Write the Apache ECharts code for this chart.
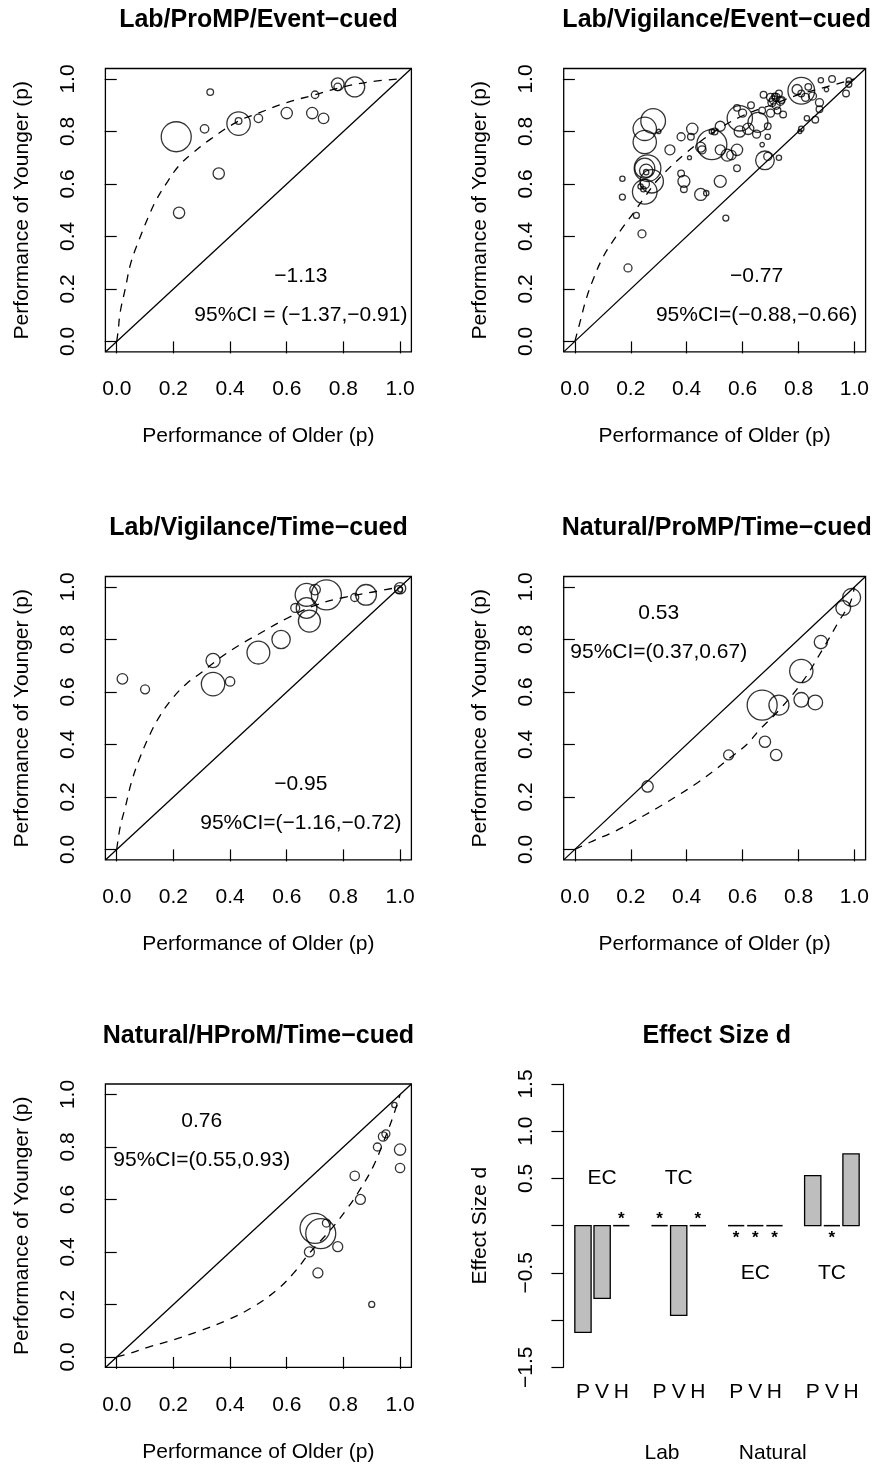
<!DOCTYPE html>
<html>
<head>
<meta charset="utf-8">
<script src="https://cdn.jsdelivr.net/npm/echarts@6/dist/echarts.min.js"></script>
<style>
html, body { margin: 0; padding: 0; background: #fff; }
#chart { width: 872px; height: 1466px; }
</style>
</head>
<body>
<div id="chart"></div>
<script>
var font = 'Liberation Sans, Arial, Helvetica, sans-serif';
var ink = '#000';

// points: [older p, younger p, n]
var labProEvent = [
  [0.21, 0.78, 225], [0.22, 0.49, 32], [0.31, 0.81, 18], [0.33, 0.95, 11],
  [0.36, 0.64, 32], [0.43, 0.83, 137], [0.43, 0.84, 11], [0.50, 0.85, 18],
  [0.60, 0.87, 32], [0.69, 0.87, 32], [0.70, 0.94, 14], [0.73, 0.85, 28],
  [0.78, 0.98, 40], [0.78, 0.97, 14], [0.84, 0.97, 100]
];
var labVigEvent = [
  [0.28, 0.84, 152], [0.25, 0.81, 136], [0.25, 0.76, 136], [0.26, 0.66, 178],
  [0.25, 0.66, 100], [0.255, 0.65, 44], [0.25, 0.57, 152], [0.275, 0.61, 136],
  [0.25, 0.60, 22], [0.245, 0.58, 7], [0.235, 0.59, 7], [0.255, 0.645, 7],
  [0.30, 0.80, 5], [0.17, 0.62, 7], [0.17, 0.55, 9], [0.22, 0.48, 9],
  [0.24, 0.41, 16], [0.19, 0.28, 16], [0.34, 0.73, 25], [0.38, 0.78, 16],
  [0.42, 0.81, 32], [0.415, 0.78, 11], [0.41, 0.70, 4], [0.38, 0.64, 11],
  [0.39, 0.61, 36], [0.39, 0.58, 11], [0.45, 0.56, 36], [0.47, 0.565, 7],
  [0.49, 0.75, 225], [0.49, 0.80, 7], [0.45, 0.74, 25], [0.455, 0.73, 16],
  [0.52, 0.82, 25], [0.50, 0.80, 11], [0.52, 0.73, 25], [0.545, 0.71, 36],
  [0.56, 0.71, 22], [0.58, 0.73, 32], [0.52, 0.61, 36], [0.58, 0.66, 11],
  [0.58, 0.89, 11], [0.63, 0.90, 11], [0.59, 0.85, 160], [0.60, 0.87, 16],
  [0.59, 0.80, 32], [0.62, 0.81, 32], [0.655, 0.835, 100], [0.65, 0.79, 16],
  [0.68, 0.69, 87], [0.69, 0.705, 16], [0.73, 0.70, 7], [0.67, 0.75, 5],
  [0.69, 0.78, 7], [0.69, 0.82, 11], [0.67, 0.88, 11], [0.70, 0.87, 16],
  [0.675, 0.94, 11], [0.70, 0.93, 16], [0.71, 0.92, 16], [0.72, 0.93, 16],
  [0.735, 0.915, 16], [0.72, 0.90, 16], [0.705, 0.91, 16], [0.73, 0.945, 11],
  [0.745, 0.865, 11], [0.725, 0.88, 11], [0.74, 0.92, 11], [0.715, 0.935, 9],
  [0.81, 0.955, 178], [0.795, 0.96, 25], [0.825, 0.93, 16], [0.81, 0.945, 11],
  [0.835, 0.97, 11], [0.85, 0.935, 16], [0.875, 0.91, 16], [0.875, 0.885, 11],
  [0.86, 0.845, 11], [0.83, 0.85, 7], [0.81, 0.81, 7], [0.805, 0.80, 4],
  [0.88, 0.995, 7], [0.92, 1.0, 11], [0.90, 0.96, 5], [0.98, 0.995, 7],
  [0.98, 0.98, 9], [0.97, 0.945, 11], [0.54, 0.47, 9]
];
var labVigTime = [
  [0.02, 0.65, 28], [0.10, 0.61, 20], [0.34, 0.72, 50], [0.34, 0.63, 137],
  [0.40, 0.64, 22], [0.50, 0.75, 130], [0.58, 0.80, 84], [0.63, 0.92, 20],
  [0.67, 0.97, 130], [0.67, 0.92, 107], [0.68, 0.87, 121], [0.70, 0.99, 28],
  [0.74, 0.97, 225], [0.84, 0.96, 16], [0.88, 0.97, 107], [1.00, 0.995, 32],
  [0.995, 0.99, 16], [1.00, 0.99, 6]
];
var natProTime = [
  [0.26, 0.24, 32], [0.55, 0.36, 25], [0.68, 0.41, 32], [0.72, 0.36, 32],
  [0.67, 0.55, 225], [0.73, 0.55, 100], [0.81, 0.57, 54], [0.86, 0.56, 54],
  [0.81, 0.68, 136], [0.88, 0.79, 44], [0.96, 0.92, 54], [0.99, 0.96, 81]
];
var natHProTime = [
  [0.98, 0.96, 7], [0.94, 0.84, 22], [0.95, 0.85, 16], [0.92, 0.80, 16],
  [1.00, 0.79, 32], [1.00, 0.72, 22], [0.84, 0.69, 22], [0.86, 0.60, 25],
  [0.70, 0.49, 225], [0.72, 0.47, 225], [0.74, 0.51, 16], [0.68, 0.40, 25],
  [0.78, 0.42, 25], [0.71, 0.32, 25], [0.90, 0.20, 9]
];

// dashed fitted curves
var curveLabProEvent = [[0, 0], [0.005, 0.04], [0.012, 0.11], [0.03, 0.2], [0.05, 0.3], [0.08, 0.39],
  [0.11, 0.47], [0.14, 0.54], [0.18, 0.61], [0.22, 0.67], [0.27, 0.72], [0.33, 0.77], [0.43, 0.84],
  [0.5, 0.87], [0.6, 0.91], [0.7, 0.94], [0.8, 0.97], [0.9, 0.99], [1, 1]];
var curveLabVigEvent = [[0, 0], [0.02, 0.08], [0.04, 0.16], [0.065, 0.235], [0.1, 0.32], [0.135, 0.38],
  [0.175, 0.44], [0.21, 0.49], [0.25, 0.55], [0.3, 0.62], [0.4, 0.72], [0.5, 0.8], [0.6, 0.86],
  [0.7, 0.9], [0.8, 0.94], [0.9, 0.97], [1, 1]];
var curveLabVigTime = [[0, 0], [0.012, 0.085], [0.03, 0.16], [0.053, 0.26], [0.082, 0.35], [0.118, 0.44],
  [0.153, 0.51], [0.2, 0.58], [0.25, 0.635], [0.3, 0.675], [0.365, 0.73], [0.435, 0.78], [0.5, 0.82],
  [0.6, 0.88], [0.7, 0.93], [0.8, 0.96], [0.9, 0.98], [1, 1]];
var curveNatProTime = [[0, 0], [0.06, 0.03], [0.145, 0.07], [0.215, 0.11], [0.29, 0.155], [0.36, 0.2],
  [0.44, 0.255], [0.51, 0.31], [0.55, 0.345], [0.615, 0.4], [0.66, 0.455], [0.73, 0.53], [0.815, 0.64],
  [0.885, 0.76], [0.945, 0.87], [0.985, 0.94], [1, 1]];
var curveNatHProTime = [[0, 0], [0.035, 0.01], [0.12, 0.04], [0.2, 0.065], [0.295, 0.1], [0.39, 0.14],
  [0.48, 0.19], [0.565, 0.255], [0.625, 0.32], [0.68, 0.395], [0.755, 0.485], [0.81, 0.56], [0.86, 0.64],
  [0.905, 0.725], [0.94, 0.815], [0.975, 0.915], [1, 1]];

var panelTitles = ['Lab/ProMP/Event\u2212cued', 'Lab/Vigilance/Event\u2212cued', 'Lab/Vigilance/Time\u2212cued',
  'Natural/ProMP/Time\u2212cued', 'Natural/HProM/Time\u2212cued', 'Effect Size d'];
var effectText = ['\u22121.13', '\u22120.77', '\u22120.95', '0.53', '0.76'];
var ciText = ['95%CI = (\u22121.37,\u22120.91)', '95%CI=(\u22120.88,\u22120.66)', '95%CI=(\u22121.16,\u22120.72)',
  '95%CI=(0.37,0.67)', '95%CI=(0.55,0.93)'];
var pTicks = [0, 0.2, 0.4, 0.6, 0.8, 1.0];

// effect size bars: P V H per group, blank slot between groups
var barCats = ['P', 'V', 'H', '', 'P', 'V', 'H', '', 'P', 'V', 'H', '', 'P', 'V', 'H'];
var barVals = [-1.13, -0.77, 0, null, 0, -0.95, 0, null, 0, 0, 0, null, 0.53, 0, 0.76];
var starSlots = [2, 4, 6, 8, 9, 10, 13];
var starSide = [1, 1, 1, -1, -1, -1, -1];
var groupLabels = ['EC', 'TC', 'EC', 'TC'];
var groupSlots = [1, 5, 9, 13];
var groupY = [0.5, 0.5, -0.5, -0.5];

var scatterSets = [labProEvent, labVigEvent, labVigTime, natProTime, natHProTime];
var curves = [curveLabProEvent, curveLabVigEvent, curveLabVigTime, curveNatProTime, curveNatHProTime];
var textAt = [[0.65, 0.25, 0.10], [0.65, 0.25, 0.10], [0.65, 0.25, 0.10], [0.30, 0.90, 0.75], [0.30, 0.90, 0.75]];

var colLeft = [105.4, 563.7];
var rowTop = [68.5, 576.5, 1084];
var boxW = 306, boxH = 283.4;
var lo = -0.04, hi = 1.04;

function fmt(v) { return v.toFixed(1).replace('-', '\u2212'); }
var txt = { color: ink, fontFamily: font, fontSize: 21 };
var plainLabel = { textBorderWidth: 0, textShadowBlur: 0, opacity: 1 };

var grids = [], xAxes = [], yAxes = [], series = [], graphics = [];

scatterSets.forEach(function(pts, i) {
  var col = i % 2, row = Math.floor(i / 2);
  grids.push({ left: colLeft[col], top: rowTop[row], width: boxW, height: boxH,
    show: true, borderColor: ink, borderWidth: 1.3, backgroundColor: 'transparent' });
  xAxes.push({ gridIndex: i, type: 'value', min: lo, max: hi,
    axisLine: { show: false }, splitLine: { show: false },
    axisTick: { show: true, length: 12, lineStyle: { color: ink, width: 1.2 }, customValues: pTicks },
    axisLabel: Object.assign({ customValues: pTicks, formatter: fmt, margin: 27 }, txt),
    name: 'Performance of Older (p)', nameLocation: 'middle', nameGap: 74, nameTextStyle: txt });
  yAxes.push({ gridIndex: i, type: 'value', min: lo, max: hi,
    axisLine: { show: false }, splitLine: { show: false },
    axisTick: { show: true, length: 12, lineStyle: { color: ink, width: 1.2 }, customValues: pTicks },
    axisLabel: Object.assign({ customValues: pTicks, formatter: fmt, margin: 27, rotate: 90 }, txt),
    name: 'Performance of Younger (p)', nameLocation: 'middle', nameGap: 73, nameTextStyle: txt });

  series.push({ type: 'scatter', xAxisIndex: i, yAxisIndex: i, data: pts, silent: true,
    symbol: 'circle', symbolSize: function(v) { return 2 * Math.sqrt(v[2]); },
    itemStyle: { color: 'rgba(0,0,0,0)', borderColor: ink, borderWidth: 1.3 } });
  series.push({ type: 'line', xAxisIndex: i, yAxisIndex: i, data: [[lo, lo], [hi, hi]],
    symbol: 'none', silent: true, lineStyle: { color: ink, width: 1.3 } });
  series.push({ type: 'line', xAxisIndex: i, yAxisIndex: i, data: curves[i], smooth: 0.4,
    symbol: 'none', silent: true, lineStyle: { color: ink, width: 1.3, type: [8, 7] } });
  var at = textAt[i];
  series.push({ type: 'scatter', xAxisIndex: i, yAxisIndex: i, silent: true, symbolSize: 1,
    itemStyle: { color: 'rgba(0,0,0,0)' },
    label: Object.assign({ show: true, position: 'inside', align: 'center', verticalAlign: 'middle',
      formatter: function(p) { return p.data.txt; } }, txt, plainLabel),
    data: [{ value: [at[0], at[1]], txt: effectText[i] }, { value: [at[0], at[2]], txt: ciText[i] }] });

  graphics.push({ type: 'text', x: colLeft[col] + boxW / 2, y: rowTop[row] - 48, silent: true,
    style: { text: panelTitles[i], fill: ink, font: 'bold 25px ' + font, align: 'center', verticalAlign: 'middle' } });
});

// effect size panel
var b = 5;
grids.push({ left: 573.4, top: 1084, width: 287.2, height: 283.3, show: false });
xAxes.push({ gridIndex: b, type: 'category', data: barCats,
  axisLine: { show: false, onZero: false }, axisTick: { show: false },
  axisLabel: Object.assign({ interval: 0, margin: 14 }, txt) });
yAxes.push({ gridIndex: b, type: 'value', min: -1.5, max: 1.5, interval: 0.5, offset: 10,
  splitLine: { show: false },
  axisLine: { show: true, lineStyle: { color: ink, width: 1.2 } },
  axisTick: { show: true, length: 12, lineStyle: { color: ink, width: 1.2 } },
  axisLabel: Object.assign({ rotate: 90, margin: 27,
    formatter: function(v) { return (v === 0 || v === -1) ? '' : fmt(v); } }, txt),
  name: 'Effect Size d', nameLocation: 'middle', nameGap: 73, nameTextStyle: txt });

series.push({ type: 'custom', xAxisIndex: b, yAxisIndex: b, silent: true,
  data: barVals.map(function(v, i) { return [i, v]; }).filter(function(d) { return d[1] !== null; }),
  renderItem: function(params, api) {
    var i = api.value(0), v = api.value(1);
    var base = api.coord([i, 0]), end = api.coord([i, v]);
    var w = api.size([1, 0])[0] * 0.85;
    if (v === 0) {
      return { type: 'line', shape: { x1: base[0] - w / 2, y1: base[1], x2: base[0] + w / 2, y2: base[1] },
        style: { stroke: ink, lineWidth: 1.5 } };
    }
    return { type: 'rect', shape: { x: base[0] - w / 2, y: Math.min(base[1], end[1]), width: w,
      height: Math.abs(end[1] - base[1]) }, style: { fill: '#bebebe', stroke: ink, lineWidth: 1.3 } };
  } });

series.push({ type: 'scatter', xAxisIndex: b, yAxisIndex: b, silent: true, symbolSize: 1,
  itemStyle: { color: 'rgba(0,0,0,0)' },
  label: Object.assign({ show: true, position: 'inside', formatter: '*', color: ink, fontFamily: font,
    fontSize: 17, fontWeight: 'bold', align: 'center', verticalAlign: 'middle' }, plainLabel),
  data: starSlots.map(function(s, k) {
    return { value: [s, 0], label: { offset: [0, starSide[k] > 0 ? -6 : 13] } };
  }) });

series.push({ type: 'scatter', xAxisIndex: b, yAxisIndex: b, silent: true, symbolSize: 1,
  itemStyle: { color: 'rgba(0,0,0,0)' },
  label: Object.assign({ show: true, position: 'inside', align: 'center', verticalAlign: 'middle',
    formatter: function(p) { return groupLabels[p.dataIndex]; } }, txt, plainLabel),
  data: groupSlots.map(function(s, k) { return [s, groupY[k]]; }) });

graphics.push({ type: 'text', x: 716.7, y: 1036, silent: true,
  style: { text: panelTitles[5], fill: ink, font: 'bold 25px ' + font, align: 'center', verticalAlign: 'middle' } });
graphics.push({ type: 'text', x: 662, y: 1453, silent: true,
  style: { text: 'Lab', fill: ink, font: '21px ' + font, align: 'center', verticalAlign: 'middle' } });
graphics.push({ type: 'text', x: 772.7, y: 1453, silent: true,
  style: { text: 'Natural', fill: ink, font: '21px ' + font, align: 'center', verticalAlign: 'middle' } });

var chart = echarts.init(document.getElementById('chart'), null, { renderer: 'canvas' });
chart.setOption({
  animation: false,
  backgroundColor: '#fff',
  grid: grids,
  xAxis: xAxes,
  yAxis: yAxes,
  series: series,
  graphic: graphics
});
</script>
</body>
</html>
